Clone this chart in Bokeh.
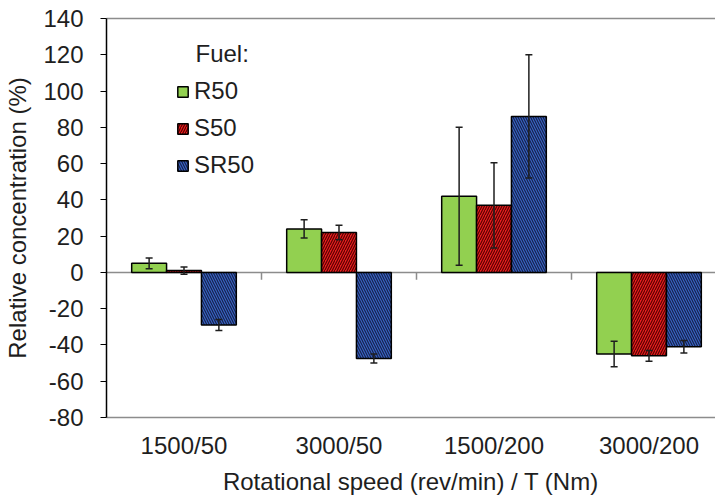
from bokeh.plotting import figure
from bokeh.models import (Range1d, FixedTicker, LinearAxis, Span, Whisker, TeeHead,
                          ColumnDataSource, Legend, LegendItem, Label)
from bokeh.embed import file_html
from bokeh.resources import INLINE

categories = ["1500/50", "3000/50", "1500/200", "3000/200"]
series = ["R50", "S50", "SR50"]
r50 = [5, 24, 42, -45]
r50_err = [3, 5, 38, 7]
s50 = [1, 22, 37, -46]
s50_err = [2, 4, 23.5, 3]
sr50 = [-29, -47.5, 86, -41]
sr50_err = [3, 2.5, 34, 3.5]
y_ticks = [-80, -60, -40, -20, 0, 20, 40, 60, 80, 100, 120, 140]
y_tick_labels = ["-80", "-60", "-40", "-20", "0", "20", "40", "60", "80", "100", "120", "140"]

FONT = "Liberation Sans"
FS = "24px"
TXT = "#1e1e1e"

p = figure(width=715, height=497, output_backend="svg", toolbar_location=None,
           x_range=Range1d(0, 3.929), y_range=Range1d(-80, 140),
           min_border_left=106, min_border_right=0, min_border_top=18, min_border_bottom=78)
p.outline_line_color = None
p.xgrid.visible = False
p.ygrid.visible = False

# y axis
ya = p.yaxis[0]
ya.ticker = FixedTicker(ticks=y_ticks)
ya.major_label_overrides = {t: lab for t, lab in zip(y_ticks, y_tick_labels)}
ya.axis_line_color = "black"
ya.axis_line_width = 1.5
ya.major_tick_line_color = "black"
ya.major_tick_line_width = 1.2
ya.major_tick_out = 6
ya.major_tick_in = 0
ya.minor_tick_line_color = None
ya.major_label_standoff = 17
ya.major_label_text_font = FONT
ya.major_label_text_font_size = FS
ya.major_label_text_font_style = "normal"
ya.major_label_text_color = TXT
ya.axis_label = "Relative concentration (%)"
ya.axis_label_text_font = FONT
ya.axis_label_text_font_size = FS
ya.axis_label_text_font_style = "normal"
ya.axis_label_text_color = TXT
ya.axis_label_standoff = 9

# x axis (bottom border + category labels)
centers = [i + 0.5 for i in range(len(categories))]
xa = p.xaxis[0]
xa.ticker = FixedTicker(ticks=centers)
xa.major_label_overrides = {c: lab for c, lab in zip(centers, categories)}
xa.axis_line_color = "#8c8c8c"
xa.axis_line_width = 1.5
xa.major_tick_line_color = None
xa.major_tick_out = 0
xa.major_tick_in = 0
xa.minor_tick_line_color = None
xa.major_label_standoff = 14
xa.major_label_text_font = FONT
xa.major_label_text_font_size = FS
xa.major_label_text_font_style = "normal"
xa.major_label_text_color = TXT
xa.axis_label = "Rotational speed (rev/min) / T (Nm)"
xa.axis_label_text_font = FONT
xa.axis_label_text_font_size = FS
xa.axis_label_text_font_style = "normal"
xa.axis_label_text_color = TXT
xa.axis_label_standoff = 6

# top border
ta = LinearAxis(ticker=FixedTicker(ticks=[]), axis_line_color="#8c8c8c", axis_line_width=1.5,
                major_tick_line_color=None, minor_tick_line_color=None,
                major_tick_out=0, major_tick_in=0,
                major_label_text_font_size="0px", major_label_standoff=0)
p.add_layout(ta, "above")

# zero line
p.add_layout(Span(location=0, dimension="width", line_color="#8c8c8c", line_width=1.5, level="underlay"))

# category boundary ticks at zero line
bounds = list(range(1, len(categories)))
p.segment(x0=bounds, x1=bounds, y0=[0] * len(bounds), y1=[-4] * len(bounds),
          line_color="#8c8c8c", line_width=1.5)

w = 0.225
offsets = [-w, 0, w]
styles = [
    dict(fill_color="#92d050"),
    dict(fill_color="#e82020", hatch_pattern="right_diagonal_line", hatch_color="#5a0000",
         hatch_scale=5, hatch_weight=1.2),
    dict(fill_color="#3a64c4", hatch_pattern="left_diagonal_line", hatch_color="#14224e",
         hatch_scale=5, hatch_weight=1.2),
]
vals = [r50, s50, sr50]
errs = [r50_err, s50_err, sr50_err]
items = []
whiskers = []
for name, v, e, off, st in zip(series, vals, errs, offsets, styles):
    xs = [c + off for c in centers]
    src = ColumnDataSource(dict(x=xs, top=v, upper=[a + b for a, b in zip(v, e)],
                                lower=[a - b for a, b in zip(v, e)]))
    r = p.vbar(x="x", top="top", bottom=0, width=w, source=src,
               line_color="black", line_width=1.5, **st)
    items.append(LegendItem(label=name, renderers=[r]))
    wh = Whisker(base="x", upper="upper", lower="lower", source=src, level="annotation",
                 line_color=TXT, line_width=1.5,
                 upper_head=TeeHead(size=7, line_color=TXT, line_width=1.5),
                 lower_head=TeeHead(size=7, line_color=TXT, line_width=1.5))
    whiskers.append(wh)
for wh in whiskers:
    p.add_layout(wh)

legend = Legend(items=items, location=(70, 238), margin=0, padding=0,
                border_line_color=None, background_fill_alpha=0,
                label_text_font=FONT, label_text_font_size=FS, label_text_color=TXT,
                glyph_width=13, glyph_height=13, label_standoff=5, spacing=9,
                label_height=28)
p.add_layout(legend)

p.add_layout(Label(x=0.574, y=120.7, text="Fuel:", text_font=FONT, text_font_size=FS,
                   text_color=TXT, text_baseline="middle"))

open("out.html", "w").write(file_html(p, INLINE))
